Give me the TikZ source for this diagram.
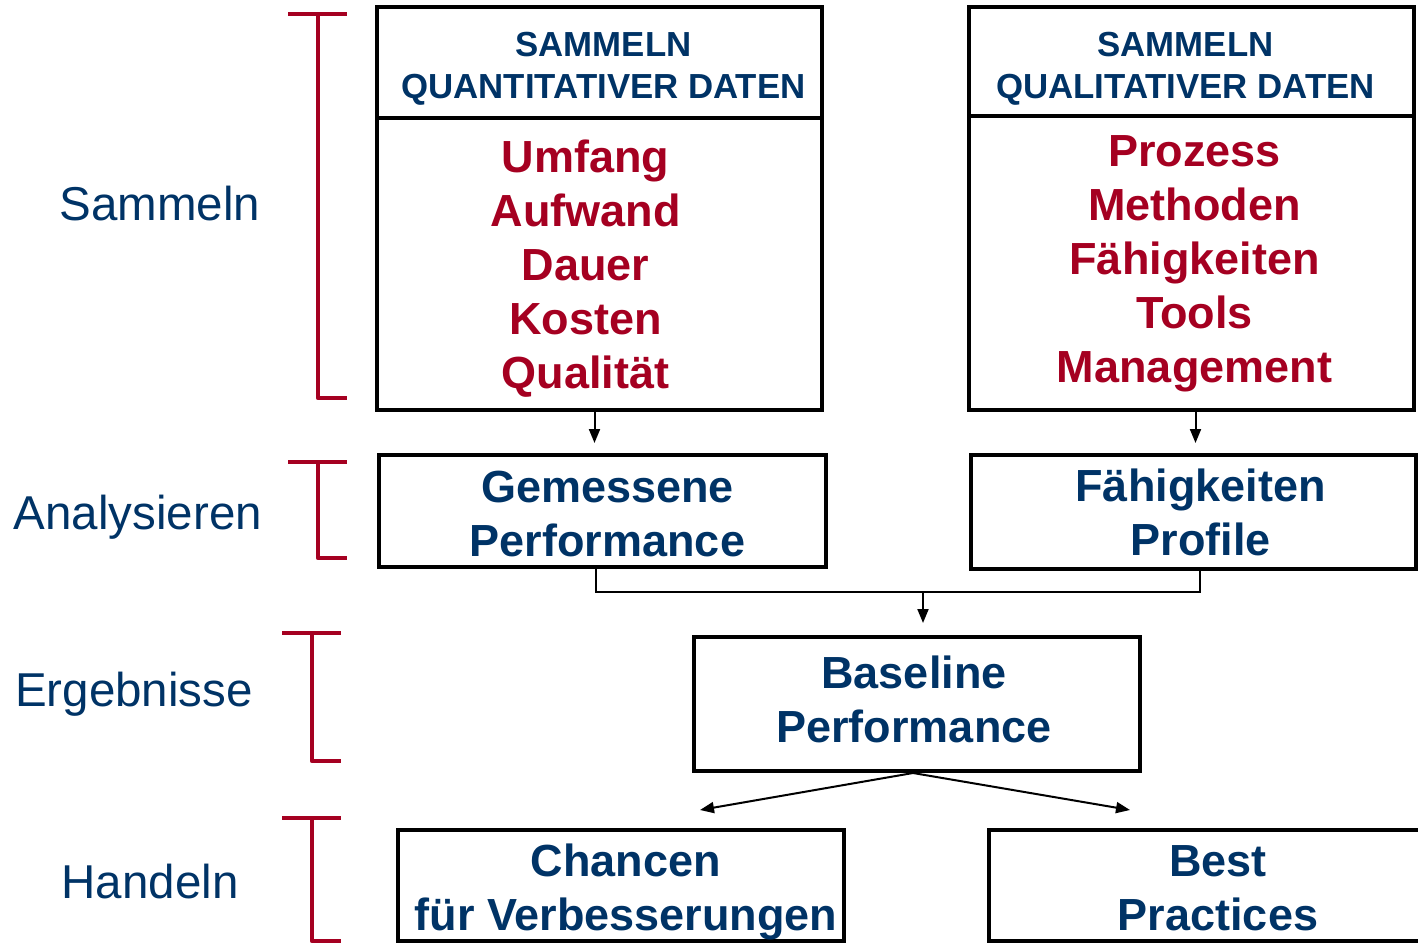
\documentclass[tikz,border=0pt]{standalone}
\usepackage{fontspec}
\setmainfont{Liberation Sans}
\usepackage{xcolor}
\usepackage{tikz}
\usetikzlibrary{arrows.meta}
\definecolor{darkblue}{RGB}{0,51,102}
\definecolor{darkred}{RGB}{165,0,33}
\tikzset{
    box/.style={draw, line width=4pt, inner sep=0pt, minimum width=446pt},
    boxtext/.style={align=center, inner sep=0pt, text=darkblue,
        font=\fontsize{45}{54}\selectfont\bfseries},
    headtext/.style={boxtext, font=\fontsize{34.8}{42}\selectfont\bfseries},
    listtext/.style={boxtext, text=darkred},
    phase/.style={anchor=base, text=darkblue, font=\fontsize{47.5}{56}\selectfont},
    bracket/.style={darkred, line width=4.5pt, line join=round},
    flow/.style={line width=2pt, -{Triangle[length=14pt,width=11pt]}}
}
\newcommand{\phasebracket}[3]{
    \draw[bracket] ({#1-30},#2) -- ({#1+29},#2)
        (#1,#2) -- (#1,#3) -- ({#1+29},#3);
}

\begin{document}
\begin{tikzpicture}[x=1pt,y=-1pt]

    \useasboundingbox (0,0) rectangle (1418,944);

    % Phase labels and red brackets on the left
    \node[phase] (sammeln) at (160,220) {Sammeln};
    \node[phase] (analyse) at (138,529) {Analysieren};
    \node[phase] (ergebnis) at (134,706) {Ergebnisse};
    \node[phase] (handeln) at (150,898) {Handeln};
    \phasebracket{318}{14}{398}
    \phasebracket{318}{462}{558}
    \phasebracket{312}{633}{761}
    \phasebracket{312}{818}{941}

    % Data collection boxes
    \node[box, minimum width=445pt, minimum height=111pt,
        label={[headtext, shift={(4,6)}]center:{SAMMELN\\QUANTITATIVER DATEN}}]
        (qnhead) at (599.5,62.5) {};
    \node[box, minimum width=445pt, minimum height=292pt,
        label={[listtext, shift={(-14,5)}]center:{Umfang\\Aufwand\\Dauer\\Kosten\\Qualität}}]
        (qnbody) at (599.5,264) {};
    \node[box, minimum width=445pt, minimum height=109pt,
        label={[headtext, shift={(-6,7)}]center:{SAMMELN\\QUALITATIVER DATEN}}]
        (qlhead) at (1191.5,61.5) {};
    \node[box, minimum width=445pt, minimum height=294pt,
        label={[listtext, shift={(3,1)}]center:{Prozess\\Methoden\\Fähigkeiten\\Tools\\Management}}]
        (qlbody) at (1191.5,263) {};

    % Analysis boxes
    \node[box, minimum width=447pt, minimum height=112pt,
        label={[boxtext, shift={(5,3)}]center:{Gemessene\\Performance}}]
        (gem) at (602.5,511) {};
    \node[box, minimum width=445pt, minimum height=114pt,
        label={[boxtext, shift={(7,0)}]center:{Fähigkeiten\\Profile}}]
        (fae) at (1193.5,512) {};

    % Result and actions
    \node[box, minimum height=134pt,
        label={[boxtext, shift={(-3,-5)}]center:{Baseline\\Performance}}]
        (base) at (917,704) {};
    \node[box, minimum height=111pt,
        label={[boxtext, shift={(5,6)}]center:{Chancen\\für Verbesserungen}}]
        (chance) at (621,885.5) {};
    \node[box, minimum height=111pt,
        label={[boxtext, shift={(6,3)}]center:{Best\\Practices}}]
        (best) at (1212,885.5) {};

    % Arrows between the levels
    \draw[flow, shorten >=10pt] ([xshift=-5pt]qnbody.south) -- ([xshift=-5pt]qnbody.south |- gem.north);
    \draw[flow, shorten >=10pt] ([xshift=4pt]qlbody.south) -- ([xshift=4pt]qlbody.south |- fae.north);
    \coordinate (join) at (923,592);
    \draw[line width=2pt] ([xshift=-7pt]gem.south) |- (join) -| ([xshift=6pt]fae.south);
    \draw[flow, shorten >=12pt] (join) -- (join |- base.north);
    \coordinate (tipL) at (700,810);
    \coordinate (tipR) at (1130,810);
    \draw[flow] ([xshift=-4pt]base.south) -- (tipL);
    \draw[flow] ([xshift=-4pt]base.south) -- (tipR);

\end{tikzpicture}
\end{document}
